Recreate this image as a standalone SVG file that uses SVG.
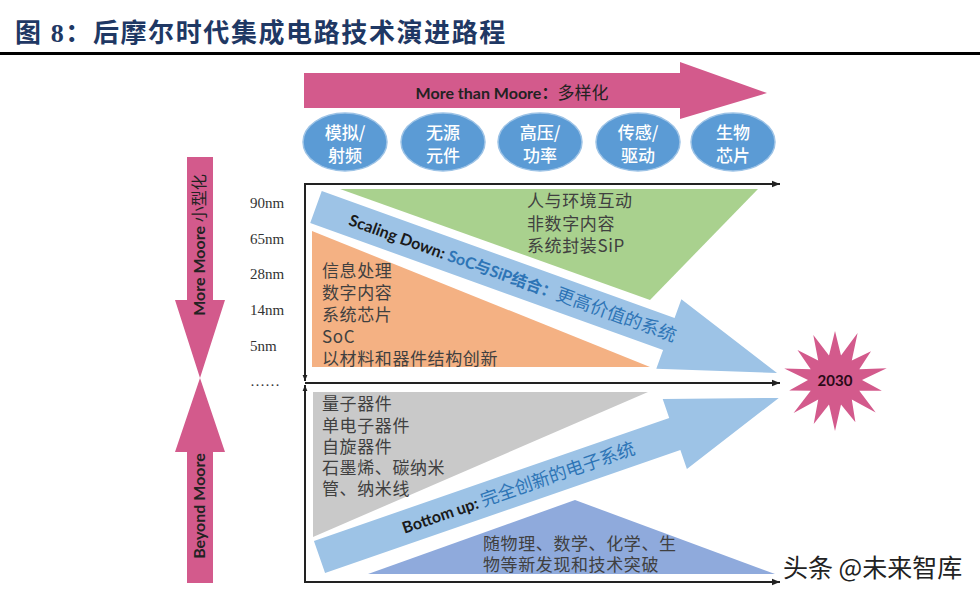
<svg xmlns="http://www.w3.org/2000/svg" width="980" height="595" viewBox="0 0 980 595">
<style>
.title{font-family:"Liberation Serif","Noto Sans CJK SC",serif;font-weight:bold;font-size:26px;letter-spacing:1.6px;fill:#1f3864}
.en{font-family:Lato,"Noto Sans CJK SC",sans-serif;font-weight:bold}
.cn{font-family:"Noto Sans CJK SC",sans-serif}
.body{font-family:"Noto Sans CJK SC",sans-serif;font-size:17px;letter-spacing:0.6px;fill:#404040}
.nm{font-family:"Liberation Serif",serif;font-size:15px;fill:#333}
.ell{fill:#5b9bd5;stroke:#9dc3e6;stroke-width:1.5}
.ellt{font-family:"Noto Sans CJK SC",sans-serif;font-size:17px;font-weight:500;fill:#fff;text-anchor:middle}
.pink{fill:#d35a8c}
.barrow{fill:#9dc3e6}
.axis{stroke:#222;stroke-width:2;fill:none}
.blue{fill:#2e75b6}
</style>
<defs>
<marker id="ah" viewBox="0 0 10 10" refX="10" refY="5" markerWidth="8" markerHeight="8" markerUnits="userSpaceOnUse" orient="auto"><path d="M0,1 L10,5 L0,9 Z" fill="#222"/></marker>
<marker id="ahs" viewBox="0 0 10 10" refX="10" refY="5" markerWidth="6" markerHeight="6" markerUnits="userSpaceOnUse" orient="auto"><path d="M0,1 L10,5 L0,9 Z" fill="#222"/></marker>
</defs>
<rect width="980" height="595" fill="#fff"/>

<g id="title">
<text class="title" x="15" y="42">图 8：后摩尔时代集成电路技术演进路程</text>
<rect x="0" y="52" width="980" height="3" fill="#000"/>
</g>

<g id="more-than-moore">
<polygon class="pink" points="304,73 680,73 680,62 767,93 680,119 680,108 304,108"/>
<text x="512" y="99" text-anchor="middle" font-size="16" fill="#222"><tspan class="en">More than Moore：</tspan><tspan class="cn" font-size="17">多样化</tspan></text>
</g>

<g id="node-analog"><ellipse class="ell" cx="345" cy="142" rx="42" ry="29"/><text class="ellt" x="345" y="139">模拟/</text><text class="ellt" x="345" y="162">射频</text></g>
<g id="node-passive"><ellipse class="ell" cx="443" cy="142" rx="42" ry="29"/><text class="ellt" x="443" y="139">无源</text><text class="ellt" x="443" y="162">元件</text></g>
<g id="node-hv"><ellipse class="ell" cx="540" cy="142" rx="42" ry="29"/><text class="ellt" x="540" y="139">高压/</text><text class="ellt" x="540" y="162">功率</text></g>
<g id="node-sensor"><ellipse class="ell" cx="638" cy="142" rx="42" ry="29"/><text class="ellt" x="638" y="139">传感/</text><text class="ellt" x="638" y="162">驱动</text></g>
<g id="node-bio"><ellipse class="ell" cx="733" cy="142" rx="42" ry="29"/><text class="ellt" x="733" y="139">生物</text><text class="ellt" x="733" y="162">芯片</text></g>

<g id="more-moore">
<polygon class="pink" points="187,157 213,157 213,300 225,300 200,378 175,300 187,300"/>
<text transform="translate(205,245) rotate(-90)" text-anchor="middle" font-size="16" fill="#222"><tspan class="en">More Moore </tspan><tspan class="cn">小型化</tspan></text>
</g>
<g id="beyond-moore">
<polygon class="pink" points="200,378 225,452 213,452 213,583 187,583 187,452 175,452"/>
<text class="en" transform="translate(205,506) rotate(-90)" text-anchor="middle" font-size="16" fill="#222">Beyond Moore</text>
</g>

<g id="nm-labels">
<text class="nm" x="250" y="208">90nm</text>
<text class="nm" x="250" y="244">65nm</text>
<text class="nm" x="250" y="279">28nm</text>
<text class="nm" x="250" y="315">14nm</text>
<text class="nm" x="250" y="351">5nm</text>
<text class="nm" x="250" y="386">……</text>
</g>

<g id="green-region">
<polygon fill="#a9d18e" points="340,189 758,189 650,300"/>
<text class="body" x="527" y="207">人与环境互动</text>
<text class="body" x="527" y="230">非数字内容</text>
<text class="body" x="527" y="252">系统封装SiP</text>
</g>

<g id="orange-region">
<polygon fill="#f4b183" points="312,231 312,367 650,367"/>
<text class="body" x="322" y="277">信息处理</text>
<text class="body" x="322" y="299">数字内容</text>
<text class="body" x="322" y="321">系统芯片</text>
<text class="body" x="322" y="343">SoC</text>
<text class="body" x="322" y="365">以材料和器件结构创新</text>
</g>

<g id="gray-region">
<polygon fill="#c9c9c9" points="313,392 648,392 313,537"/>
<text class="body" x="322" y="410">量子器件</text>
<text class="body" x="322" y="432">单电子器件</text>
<text class="body" x="322" y="453">自旋器件</text>
<text class="body" x="322" y="474">石墨烯、碳纳米</text>
<text class="body" x="322" y="495">管、纳米线</text>
</g>

<g id="indigo-region">
<polygon fill="#8faadc" points="368,574 575,500 775,574"/>
<text class="body" x="483" y="550">随物理、数学、化学、生</text>
<text class="body" x="483" y="571">物等新发现和技术突破</text>
</g>

<g id="scaling-down">
<g transform="translate(316,207) rotate(19.8)">
<path class="barrow" d="M0,-17 L375,-17 L375,-37 L490,0 L375,37 L375,17 L0,17 Z"/>
<text x="36" y="6" font-size="16"><tspan class="en" fill="#1a1a1a">Scaling Down: </tspan><tspan class="en blue">SoC与SiP结合：</tspan><tspan class="cn blue" font-size="18">更高价值的系统</tspan></text>
</g>
</g>

<g id="bottom-up">
<g transform="translate(319.5,557) rotate(-19.1)">
<path class="barrow" d="M0,-17 L376,-17 L376,-37 L486,0 L376,37 L376,17 L0,17 Z"/>
<text x="88" y="6" font-size="16"><tspan class="en" fill="#1a1a1a">Bottom up: </tspan><tspan class="cn blue" font-size="18">完全创新的电子系统</tspan></text>
</g>
</g>

<g id="connectors">
<line class="axis" x1="305" y1="184" x2="780" y2="184" marker-end="url(#ah)"/>
<line class="axis" x1="305" y1="383" x2="780" y2="383" marker-end="url(#ah)"/>
<line class="axis" x1="305" y1="582" x2="780" y2="582" marker-end="url(#ah)"/>
<line class="axis" x1="305" y1="183" x2="305" y2="381" marker-end="url(#ahs)"/>
<line class="axis" x1="305" y1="583" x2="305" y2="385" marker-end="url(#ahs)"/>
</g>

<g id="node-2030">
<polygon class="pink" points="835,331 841,355.6 857.6,333.1 851.8,360.5 871,351.3 859.3,369.2 886.7,368.2 862,380 881.8,390.7 859.3,390.8 875.7,412.4 851.8,399.5 855.4,422.3 841,404.4 835,431 829,404.4 813.7,424.1 818.2,399.5 793.6,413 810.7,390.8 789.2,390.5 808,380 784.3,368.4 810.7,369.2 797.5,350.1 818.2,360.5 813.3,334.9 829,355.6"/>
<text class="en" x="835" y="386" text-anchor="middle" font-size="15" fill="#2a0a18">2030</text>
</g>

<g id="watermark">
<text class="cn" x="783" y="577" font-size="25" fill="#222">头条 @未来智库</text>
</g>
</svg>
